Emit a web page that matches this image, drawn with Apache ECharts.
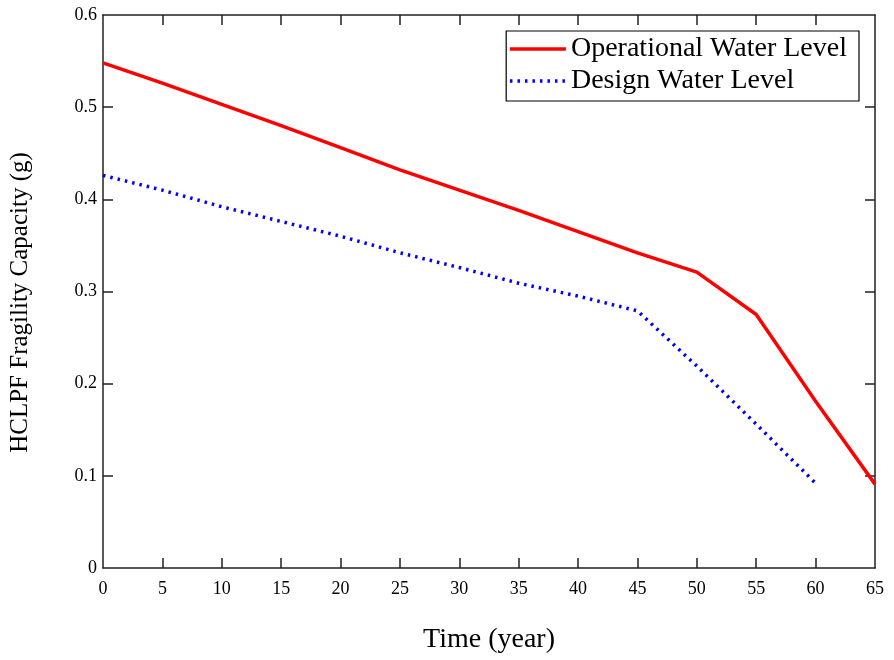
<!DOCTYPE html>
<html><head><meta charset="utf-8">
<script src="https://cdn.jsdelivr.net/npm/echarts@6/dist/echarts.min.js"></script>
<style>html,body{margin:0;padding:0;background:#fff}#c{width:894px;height:660px}</style>
</head><body><div id="c"></div>
<script>
const years = [0,5,10,15,20,25,30,35,40,45,50,55,60,65];
const operational = [0.548,0.526,0.503,0.480,0.456,0.432,0.410,0.388,0.365,0.342,0.321,0.275,0.181,0.091];
const designYears = [0,5,10,15,20,25,30,35,40,45,50,55,60];
const design = [0.426,0.410,0.392,0.376,0.360,0.342,0.326,0.309,0.295,0.279,0.219,0.156,0.092];
const xTicks = [0,5,10,15,20,25,30,35,40,45,50,55,60,65];
const yTicks = [0,0.1,0.2,0.3,0.4,0.5,0.6];

const font = 'Liberation Serif';
const chart = echarts.init(document.getElementById('c'));
const axisLine = {show:true, onZero:false, lineStyle:{color:'#222', width:1.5}};
const xTick = {show:true, inside:true, length:10, customValues:xTicks.slice(1,-1), lineStyle:{color:'#222', width:1.5}};
const yTick = {show:true, inside:true, length:10, customValues:yTicks.slice(1,-1), lineStyle:{color:'#222', width:1.5}};
chart.setOption({
  animation:false,
  grid:{left:101, right:19, top:15, bottom:92},
  legend:{
    orient:'vertical', right:35, top:31,
    borderColor:'#000', borderWidth:1.2, padding:[4,12,6,2], itemGap:4,
    itemWidth:56, itemHeight:14,
    itemStyle:{opacity:0},
    textStyle:{fontFamily:font, fontSize:28, color:'#000'},
    data:[
      {name:'Operational Water Level', lineStyle:{width:3.5}},
      {name:'Design Water Level', lineStyle:{width:3.5}}
    ]
  },
  xAxis:[{
    type:'value', min:0, max:65, interval:5,
    name:'Time (year)', nameLocation:'middle', nameGap:58,
    nameTextStyle:{fontFamily:font, fontSize:28, color:'#000'},
    axisLine, axisTick:xTick, splitLine:{show:false},
    axisLabel:{fontFamily:font, fontSize:18, color:'#000', margin:12,
      formatter:v=>xTicks.includes(v)?String(v):''}
  },{
    type:'value', min:0, max:65, interval:5, position:'top',
    axisLine, axisTick:xTick, axisLabel:{show:false}, splitLine:{show:false}
  }],
  yAxis:[{
    type:'value', min:0, max:0.6, interval:0.1,
    name:'HCLPF Fragility Capacity (g)', nameLocation:'middle', nameGap:70,
    nameTextStyle:{fontFamily:font, fontSize:25, color:'#000', padding:[0,22,0,0]},
    axisLine, axisTick:yTick, splitLine:{show:false},
    axisLabel:{fontFamily:font, fontSize:18, color:'#000', margin:6,
      formatter:v=>{const t=yTicks.find(y=>Math.abs(y-v)<1e-9);return t===undefined?'':String(t);}}
  },{
    type:'value', min:0, max:0.6, interval:0.1, position:'right',
    axisLine, axisTick:yTick, axisLabel:{show:false}, splitLine:{show:false}
  }],
  series:[{
    name:'Operational Water Level', type:'line', symbol:'none',
    data:years.map((x,i)=>[x,operational[i]]),
    lineStyle:{color:'#ff0000', width:3.5}, itemStyle:{color:'#ff0000'}
  },{
    name:'Design Water Level', type:'line', symbol:'none',
    data:designYears.map((x,i)=>[x,design[i]]),
    lineStyle:{color:'#0000ff', width:3.5, type:[2.5,5], cap:'butt'}, itemStyle:{color:'#0000ff'}
  }]
});
</script></body></html>
